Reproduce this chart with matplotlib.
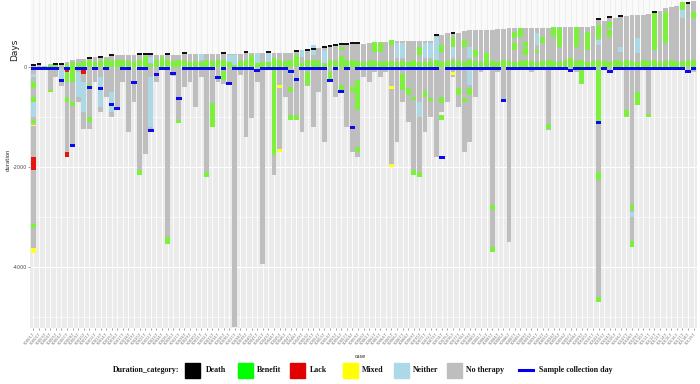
import numpy as np
import matplotlib
matplotlib.use("Agg")
import matplotlib.pyplot as plt
from matplotlib.patches import Rectangle
from matplotlib.lines import Line2D

plt.rcParams["axes.unicode_minus"] = False

N = 119
case_ids = [f"S{n:04d}-T" for n in range(1, N + 1)]

pos_top = [40, 53, 20, 53, 60, 60, 93, 140, 153, 160,
           173, 193, 193, 210, 227, 240, 240, 240, 240, 253,
           250, 250, 240, 240, 260, 250, 250, 273, 260, 260,
           260, 260, 260, 260, 265, 270, 270, 270, 287, 275,
           273, 275, 293, 275, 275, 280, 290, 307, 320, 340,
           360, 373, 393, 420, 440, 460, 460, 462, 465, 465,
           480, 493, 493, 495, 520, 520, 520, 520, 520, 520,
           525, 525, 627, 640, 673, 680, 690, 720, 740, 740,
           745, 750, 750, 760, 770, 775, 775, 780, 780, 785,
           785, 790, 790, 795, 795, 800, 800, 805, 805, 810,
           815, 953, 927, 993, 973, 1007, 1020, 1033, 1040, 1045,
           1060, 1093, 1120, 1173, 1207, 1227, 1247, 1273, 1320]

neg_bottom = [-3720, -40, -40, -500, -200, -380, -1800, -1580, -700, -1230,
              -1230, -300, -900, -600, -1000, -820, -300, -1300, -700, -2160,
              -1730, -1260, -300, -60, -3530, -180, -1120, -400, -300, -800,
              -200, -2200, -1200, -300, -330, -330, -5200, -150, -1400, -1020,
              -300, -3930, -60, -2150, -1700, -600, -1060, -1060, -1300, -380,
              -1200, -500, -1500, -300, -600, -500, -1200, -1700, -1800, -200,
              -300, -100, -200, -100, -2000, -1500, -700, -1100, -2150, -2200,
              -1300, -1000, -1800, -900, -700, -200, -800, -1700, -1500, -600,
              -100, -60, -3700, -100, -660, -3500, -60, -60, -60, -100,
              -60, -60, -1250, -60, -60, -60, -60, -100, -330, -60,
              -60, -4700, -60, -100, -60, -60, -1000, -3600, -760, -60,
              -1000, -60, -60, -60, -60, -60, -60, -60, -100]

sample_day = [-30, -30, -30, -30, -30, -270, -30, -1570, -30, -30,
              -400, -30, -420, -30, -750, -820, -30, -30, -300, -30,
              -30, -1260, -150, -30, -30, -120, -620, -30, -30, -30,
              -30, -30, -30, -200, -30, -330, -30, -30, -30, -30,
              -60, -30, -30, -30, -30, -30, -80, -240, -30, -30,
              -30, -30, -30, -270, -30, -480, -30, -1200, -30, -30,
              -30, -30, -30, -30, -30, -30, -30, -30, -30, -30,
              -30, -30, -30, -1800, -30, -30, -30, -30, -30, -30,
              -30, -30, -30, -30, -660, -30, -30, -30, -30, -30,
              -30, -30, -30, -30, -30, -30, -60, -30, -30, -30,
              -30, -1100, -30, -80, -30, -30, -30, -30, -30, -30,
              -30, -30, -30, -30, -30, -30, -30, -80, -30]

death_cases = [0, 1, 4, 5, 10, 12, 14, 19, 20, 21, 24, 27, 34, 38, 42, 47, 49,
               50, 52, 53, 54, 55, 56, 57, 58, 72, 75, 101, 103, 105, 111, 117]

base_benefit = [0, 0, 20, 40, 40, 0, 60, 100, 80, 120,
                140, 100, 120, 160, 120, 140, 140, 120, 100, 140,
                220, 60, 140, 187, 140, 120, 130, 140, 100, 120,
                100, 140, 120, 0, 140, 100, 40, 120, 140, 233,
                80, 100, 100, 173, 140, 120, 140, 240, 80, 140,
                140, 120, 60, 140, 120, 207, 140, 140, 120, 100,
                120, 140, 100, 120, 120, 100, 120, 100, 140, 100,
                100, 120, 130, 100, 120, 140, 120, 100, 140, 120,
                100, 273, 120, 100, 140, 120, 100, 120, 140, 120,
                100, 120, 140, 120, 100, 140, 173, 120, 140, 100,
                120, 140, 120, 100, 140, 120, 140, 120, 100, 140,
                120, 140, 100, 120, 140, 100, 120, 140, 140]

# extra coloured segments: case index, lower, upper, category
seg_case = [0, 0, 0, 0, 0, 0, 0, 0, 0,
            3, 5, 6, 6, 6, 6, 7, 7, 8, 9, 9, 10, 10, 12, 14, 19, 21, 24, 26,
            31, 32, 34, 43, 44, 44, 46, 46, 46, 47, 49, 53, 55, 57, 58, 58,
            64, 64, 66, 67, 68, 68, 69, 69, 70, 71, 73, 73, 75, 76, 77, 78, 78,
            82, 82, 92, 98, 101, 101, 101, 106, 107, 107, 107, 108, 110,
            21, 30, 33, 35, 36, 40, 42, 48, 50, 52, 55, 61, 62, 64, 65, 66,
            69, 70, 71, 72, 73, 75, 75, 77, 78, 79, 86, 86, 87, 88, 88, 90, 90,
            91, 93, 94, 97, 99, 101, 101, 103, 103, 105, 108, 111, 111, 113,
            113, 116, 116, 118, 118]
seg_lo = [-200, -420, -700, -1000, -1120, -1175, -2060, -3220, -3720,
          -500, -250, -120, -300, -700, -1800, -300, -770, -600, -140, -900,
          -370, -1100, -800, -900, -2160, -1200, -3530, -1120,
          -2200, -1200, -260, -1750, -420, -1700, -140, -500, -1060, -1060,
          -360, -270, -460, -500, -860, -1700,
          -440, -2000, -460, -560, -660, -2150, -1000, -2200, -600, -680,
          -720, -1060, -160, -560, -700, -350, -560,
          -2860, -3700, -1230, -330, -1100, -2260, -4700, -1000, -2850, -3000,
          -3600, -760, -1000,
          73, 140, 7, 107, 40, 73, 107, 200, 240, 73, 340, 307, 307, 440, 173,
          173, 240, 173, 173, 140, 300, 407, 173, 407, 173, 207, 573, 340, 607,
          407, 240, 440, 273, 473, 607, 407, 407, 340, 560, 440, 773, 607, 307,
          273, 340, 560, 973, 473, 973, 1140, 1107, 807]
seg_hi = [-140, -300, -600, -700, -1060, -1150, -1790, -3130, -3610,
          -450, -30, -20, -100, -600, -1690, 0, -700, -100, -60, -300,
          -330, -1000, -200, -500, -2060, -200, -3400, -1050,
          -2100, -720, -80, -40, -360, -1630, -80, -400, -960, -960,
          -100, -100, -360, -400, -260, -1600,
          -380, -1940, -130, -420, -600, -2050, -700, -2100, -480, -620,
          -600, -960, -100, -420, -620, -60, -420,
          -2760, -3600, -1130, -60, -60, -2100, -4600, -860, -2750, -2900,
          -3480, -500, -930,
          207, 260, 140, 240, 240, 273, 273, 340, 440, 340, 407, 493, 473, 540,
          473, 473, 407, 473, 473, 607, 440, 607, 407, 540, 407, 340, 707, 473,
          773, 507, 373, 673, 340, 607, 795, 773, 800, 707, 840, 540, 907, 740,
          407, 573, 773, 1093, 573, 1107, 1273, 1307, 973]
seg_cat = (["N", "B", "B", "N", "B", "M", "L", "B", "M",
            "B", "N", "L", "B", "B", "L", "B", "B", "N", "L", "N", "B", "B",
            "N", "N", "B", "N", "B", "B",
            "B", "B", "B", "B", "M", "M", "N", "B", "B", "B", "B", "B", "B",
            "B", "B", "B",
            "M", "M", "B", "B", "B", "B", "N", "B", "B", "B", "B", "B", "M",
            "B", "B", "N", "B",
            "B", "B", "B", "B", "B", "B", "B", "B", "B", "N", "B", "B", "B",
            "N", "N", "B", "N", "N", "N", "N", "N", "N", "N", "B", "B", "B",
            "B", "N", "N", "B", "N", "N", "N", "B", "B", "N", "B", "N", "B",
            "B", "B", "B", "B", "B", "N", "B", "B", "B", "B", "B", "B", "B",
            "N", "B", "B", "N", "N", "B", "B", "B", "B", "N", "B", "B", "B"])

cat_colors = {"B": "#7DF03C", "L": "#E8140F", "M": "#FFFF20", "N": "#ADD8E6"}
gray = "#BEBEBE"

fig = plt.figure(figsize=(7, 3.84), dpi=100)
ax = fig.add_axes([30 / 700, 1 - 328 / 384, 667 / 700, 328 / 384])
ymin, ymax = -5220, 1340
x = np.arange(N)
ax.set_xlim(-0.6, N - 1 + 0.6)
ax.set_ylim(ymin, ymax)

# background
ax.axhspan(ymin, 0, color="#EBEBEB", zorder=0, lw=0)
ax.axhspan(0, ymax, color="#FAFAFA", zorder=0, lw=0)
ax.vlines(x, ymin, 0, color="white", lw=0.6, zorder=0.5)
ax.vlines(x, 0, ymax, color="#EBEBEB", lw=0.6, zorder=0.5)
for yy in [-4000, -2000, 0]:
    ax.axhline(yy, color="white", lw=0.8, zorder=0.6)
for yy in [-5000, -3000, -1000]:
    ax.axhline(yy, color="white", lw=0.4, zorder=0.6)

w = 0.86
ax.bar(x, pos_top, width=w, color=gray, zorder=1, lw=0)
ax.bar(x, neg_bottom, width=w, color=gray, zorder=1, lw=0)
ax.bar(x, base_benefit, width=w, bottom=8, color=cat_colors["B"], zorder=2, lw=0)
for c, lo, hi, cat in zip(seg_case, seg_lo, seg_hi, seg_cat):
    ax.bar(c, hi - lo, bottom=lo, width=w, color=cat_colors[cat], zorder=2, lw=0)
tops = np.array(pos_top)
ax.bar(death_cases, 40, bottom=tops[death_cases] - 10, width=w, color="#111111", zorder=3, lw=0)
ax.bar(x, 60, bottom=np.array(sample_day) - 30, width=1.0, color="#0A0AEE", zorder=4, lw=0)

for s in ax.spines.values():
    s.set_visible(False)
ax.set_yticks([0, -2000, -4000])
ax.set_yticklabels(["0", "-2000", "-4000"], fontsize=3.5, color="#4D4D4D")
ax.set_xticks(x)
ax.set_xticklabels(case_ids, rotation=50, ha="right", rotation_mode="anchor",
                   fontsize=2.6, color="#6E6E6E")
ax.tick_params(axis="both", length=1.5, width=0.4, color="#555555", pad=1)

fig.text(8 / 700, 1 - 160 / 384, "duration", rotation=90, fontsize=3.8,
         ha="center", va="center", color="#222222")
fig.text(15 / 700, 1 - 50 / 384, "Days", rotation=90, fontsize=6.5,
         ha="center", va="center", color="#222222")
fig.text(360 / 700, 1 - 356 / 384, "case", fontsize=3.5, ha="center",
         va="center", color="#222222")

# legend
lg_font = dict(family="Liberation Serif", weight="bold", fontsize=5.7, color="#111111")
yc = 1 - 370 / 384
fig.text(113 / 700, yc, "Duration_category:", ha="left", va="center", **lg_font)
legend_items = [("Death", "#000000", 185, 206), ("Benefit", "#00FF00", 238, 257),
                ("Lack", "#E00000", 290, 310), ("Mixed", "#FFFF00", 343, 362),
                ("Neither", "#ADD8E6", 394, 413), ("No therapy", "#BEBEBE", 447, 466)]
for lab, col, sx, tx in legend_items:
    fig.patches.append(Rectangle((sx / 700, 1 - 377.5 / 384), 15 / 700, 15 / 384,
                                 transform=fig.transFigure, color=col, figure=fig))
    fig.text(tx / 700, yc, lab, ha="left", va="center", **lg_font)
fig.lines.append(Line2D([519 / 700, 533 / 700], [yc, yc], transform=fig.transFigure,
                        color="#0000EE", lw=2.2, figure=fig))
fig.text(539 / 700, yc, "Sample collection day", ha="left", va="center", **lg_font)

fig.savefig("out.png", dpi=100, facecolor="white")
